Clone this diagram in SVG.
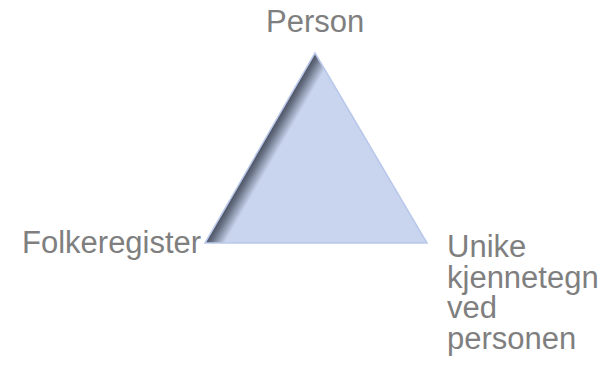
<svg xmlns="http://www.w3.org/2000/svg" width="609" height="378" viewBox="0 0 609 378">
<defs>
<style>
.lbl{font-family:"Liberation Sans",Arial,sans-serif;font-size:31px;fill:#7f7f7f}
</style>
<linearGradient id="shade" gradientUnits="userSpaceOnUse" x1="205" y1="243" x2="219.7" y2="251.5">
<stop offset="0" stop-color="#4a5060"/>
<stop offset="0.3" stop-color="#677083"/>
<stop offset="1" stop-color="#c9d5ef"/>
</linearGradient>
</defs>
<rect width="609" height="378" fill="#ffffff"/>
<g id="triangle">
<polygon points="315,53 427,243 205,243" fill="url(#shade)" stroke="#b9c8ea" stroke-width="1.5" stroke-linejoin="miter"/>
</g>
<g id="connectors"></g>
<g id="person">
<text class="lbl" x="266" y="32">Person</text>
</g>
<g id="folkeregister">
<text class="lbl" x="22" y="253">Folkeregister</text>
</g>
<g id="unike">
<text class="lbl" x="447" y="257">Unike</text>
<text class="lbl" x="447" y="287.5">kjennetegn</text>
<text class="lbl" x="447" y="318">ved</text>
<text class="lbl" x="447" y="348.5">personen</text>
</g>
</svg>
